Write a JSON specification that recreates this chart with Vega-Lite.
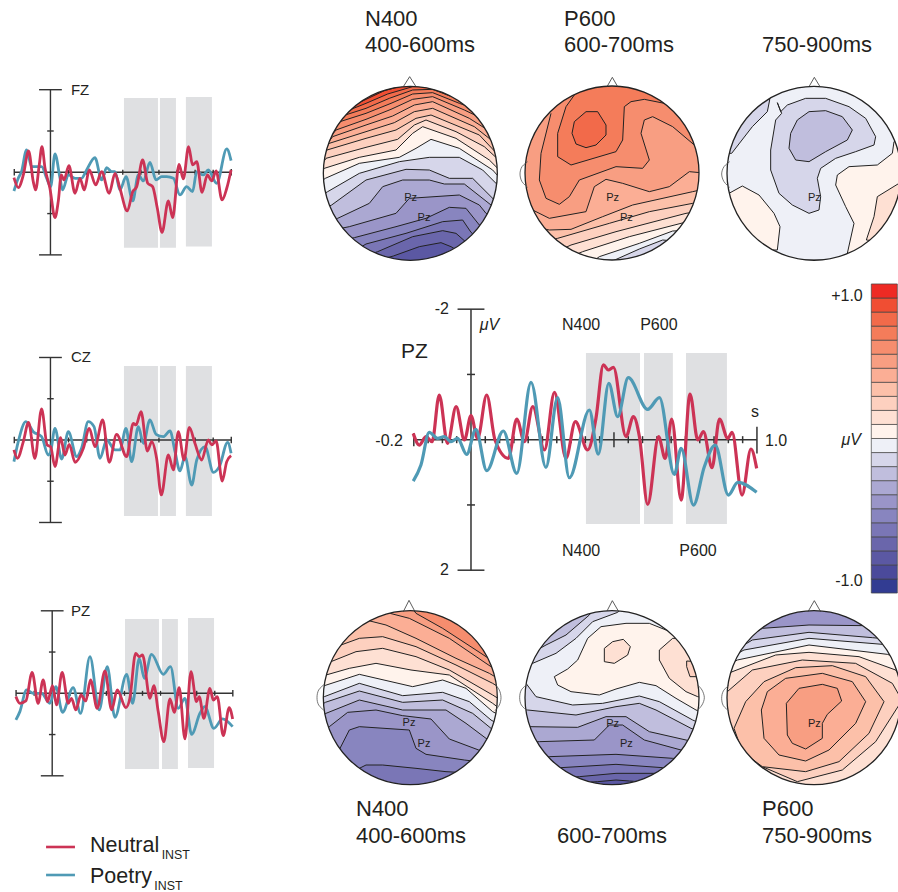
{"$schema":"https://vega.github.io/schema/vega-lite/v6.json","padding":0,"background":"white","config":{"view":{"stroke":null},"text":{"font":"Liberation Sans","color":"#231f20"}},
"datasets":{
"axS":[{"t":-0.2,"t2":1,"u":0,"u2":0},{"t":0,"t2":0,"u":-2,"u2":2},{"t":-0.063,"t2":0.063,"u":-2,"u2":-2},{"t":-0.063,"t2":0.063,"u":2,"u2":2},{"t":-0.018,"t2":0.018,"u":-1,"u2":-1},{"t":-0.018,"t2":0.018,"u":1,"u2":1},{"t":-0.2,"t2":-0.2,"u":-0.08,"u2":0.08},{"t":1,"t2":1,"u":-0.08,"u2":0.08},{"t":-0.1,"t2":-0.1,"u":-0.06,"u2":0.06},{"t":0.1,"t2":0.1,"u":-0.06,"u2":0.06},{"t":0.2,"t2":0.2,"u":-0.06,"u2":0.06},{"t":0.3,"t2":0.3,"u":-0.06,"u2":0.06},{"t":0.4,"t2":0.4,"u":-0.06,"u2":0.06},{"t":0.5,"t2":0.5,"u":-0.06,"u2":0.06},{"t":0.6,"t2":0.6,"u":-0.06,"u2":0.06},{"t":0.7,"t2":0.7,"u":-0.06,"u2":0.06},{"t":0.8,"t2":0.8,"u":-0.06,"u2":0.06},{"t":0.9,"t2":0.9,"u":-0.06,"u2":0.06}],
"fzN":[{"t":-0.202,"u":0.129},{"t":-0.178,"u":0.371},{"t":-0.15,"u":0.065},{"t":-0.121,"u":-0.516},{"t":-0.095,"u":0.226},{"t":-0.082,"u":0.428},{"t":-0.062,"u":-0.178},{"t":-0.047,"u":-0.621},{"t":-0.03,"u":-0.097},{"t":-0.003,"u":0.387},{"t":0.025,"u":1.097},{"t":0.043,"u":0.71},{"t":0.06,"u":0.065},{"t":0.075,"u":0.186},{"t":0.102,"u":-0.161},{"t":0.136,"u":0.508},{"t":0.163,"u":0.145},{"t":0.187,"u":0.428},{"t":0.215,"u":-0.056},{"t":0.25,"u":0.307},{"t":0.283,"u":-0.016},{"t":0.325,"u":0.508},{"t":0.357,"u":0.024},{"t":0.384,"u":0.387},{"t":0.425,"u":0.936},{"t":0.455,"u":0.468},{"t":0.477,"u":0.347},{"t":0.51,"u":-0.299},{"t":0.538,"u":0.266},{"t":0.565,"u":0.347},{"t":0.591,"u":0.872},{"t":0.617,"u":1.453},{"t":0.652,"u":0.694},{"t":0.676,"u":1.097},{"t":0.711,"u":-0.194},{"t":0.735,"u":0.161},{"t":0.764,"u":-0.621},{"t":0.786,"u":-0.178},{"t":0.809,"u":-0.258},{"t":0.838,"u":0.484},{"t":0.868,"u":0.065},{"t":0.892,"u":0.21},{"t":0.916,"u":-0.032},{"t":0.949,"u":0.67},{"t":0.975,"u":0.387},{"t":0.999,"u":-0.056}],
"fzP":[{"t":-0.202,"u":0.452},{"t":-0.178,"u":0.145},{"t":-0.16,"u":-0.016},{"t":-0.132,"u":-0.541},{"t":-0.104,"u":-0.137},{"t":-0.049,"u":-0.137},{"t":-0.021,"u":0.145},{"t":0.001,"u":0.347},{"t":0.025,"u":-0.444},{"t":0.053,"u":0.145},{"t":0.067,"u":0.428},{"t":0.099,"u":0.065},{"t":0.136,"u":0.145},{"t":0.172,"u":0.145},{"t":0.2,"u":-0.056},{"t":0.246,"u":-0.355},{"t":0.283,"u":0.186},{"t":0.311,"u":-0.113},{"t":0.338,"u":-0.016},{"t":0.357,"u":-0.016},{"t":0.384,"u":0.428},{"t":0.418,"u":0.105},{"t":0.455,"u":0.694},{"t":0.486,"u":0.065},{"t":0.514,"u":0.21},{"t":0.55,"u":-0.242},{"t":0.584,"u":0.186},{"t":0.615,"u":0.105},{"t":0.643,"u":0.105},{"t":0.68,"u":0.145},{"t":0.716,"u":0.549},{"t":0.753,"u":0.347},{"t":0.786,"u":0.468},{"t":0.809,"u":-0.016},{"t":0.845,"u":0.065},{"t":0.873,"u":-0.056},{"t":0.919,"u":0.266},{"t":0.975,"u":-0.565},{"t":0.999,"u":-0.282}],
"czN":[{"t":-0.202,"u":0.242},{"t":-0.183,"u":0.444},{"t":-0.15,"u":0.04},{"t":-0.121,"u":-0.428},{"t":-0.086,"u":0.444},{"t":-0.049,"u":-0.751},{"t":-0.018,"u":0.121},{"t":0.001,"u":0.162},{"t":0.025,"u":0.646},{"t":0.056,"u":-0.057},{"t":0.08,"u":0.364},{"t":0.104,"u":0.105},{"t":0.136,"u":0.541},{"t":0.182,"u":0.202},{"t":0.215,"u":-0.283},{"t":0.246,"u":0.162},{"t":0.289,"u":-0.485},{"t":0.325,"u":0.541},{"t":0.366,"u":-0.137},{"t":0.421,"u":0.404},{"t":0.458,"u":-0.404},{"t":0.473,"u":-0.364},{"t":0.501,"u":-0.687},{"t":0.536,"u":0.267},{"t":0.56,"u":0.04},{"t":0.587,"u":0.444},{"t":0.613,"u":1.333},{"t":0.652,"u":0.364},{"t":0.68,"u":0.727},{"t":0.707,"u":-0.202},{"t":0.739,"u":0.485},{"t":0.768,"u":-0.307},{"t":0.799,"u":0.081},{"t":0.836,"u":0.485},{"t":0.873,"u":0},{"t":0.892,"u":0.121},{"t":0.916,"u":0.024},{"t":0.95,"u":0.994},{"t":0.975,"u":0.525},{"t":0.999,"u":0.38}],
"czP":[{"t":-0.202,"u":0.525},{"t":-0.178,"u":0.04},{"t":-0.136,"u":-0.444},{"t":-0.095,"u":-0.202},{"t":-0.049,"u":-0.081},{"t":-0.012,"u":0.364},{"t":0.001,"u":0.283},{"t":0.025,"u":-0.283},{"t":0.062,"u":0.461},{"t":0.099,"u":-0.202},{"t":0.145,"u":0.404},{"t":0.172,"u":0.202},{"t":0.209,"u":-0.444},{"t":0.241,"u":-0.323},{"t":0.274,"u":0.444},{"t":0.311,"u":0},{"t":0.357,"u":0.242},{"t":0.384,"u":0.242},{"t":0.418,"u":-0.283},{"t":0.449,"u":0.525},{"t":0.486,"u":-0.323},{"t":0.514,"u":0.081},{"t":0.55,"u":-0.485},{"t":0.584,"u":-0.137},{"t":0.624,"u":-0.081},{"t":0.661,"u":-0.218},{"t":0.689,"u":0.283},{"t":0.716,"u":0.751},{"t":0.744,"u":0.404},{"t":0.781,"u":1.091},{"t":0.809,"u":0.485},{"t":0.855,"u":0.162},{"t":0.901,"u":0.784},{"t":0.934,"u":0.646},{"t":0.98,"u":0.057},{"t":0.999,"u":0.323}],
"pzN":[{"t":-0.201,"u":0.081},{"t":-0.179,"u":0.242},{"t":-0.146,"u":0.186},{"t":-0.111,"u":-0.509},{"t":-0.078,"u":0.242},{"t":-0.05,"u":-0.323},{"t":-0.026,"u":0.202},{"t":0.002,"u":-0.186},{"t":0.024,"u":0.283},{"t":0.055,"u":-0.509},{"t":0.089,"u":0.242},{"t":0.107,"u":0.121},{"t":0.131,"u":0.404},{"t":0.159,"u":0.04},{"t":0.186,"u":0.186},{"t":0.212,"u":-0.323},{"t":0.249,"u":0.364},{"t":0.292,"u":-0.541},{"t":0.329,"u":0.404},{"t":0.36,"u":-0.081},{"t":0.408,"u":0.347},{"t":0.43,"u":0.121},{"t":0.462,"u":-0.97},{"t":0.482,"u":-0.889},{"t":0.5,"u":-0.929},{"t":0.541,"u":0.121},{"t":0.563,"u":-0.186},{"t":0.587,"u":0.444},{"t":0.618,"u":1.172},{"t":0.652,"u":0.137},{"t":0.676,"u":0.461},{"t":0.703,"u":-0.137},{"t":0.735,"u":1.107},{"t":0.768,"u":-0.525},{"t":0.799,"u":0.202},{"t":0.814,"u":0.081},{"t":0.84,"u":0.606},{"t":0.873,"u":-0.121},{"t":0.892,"u":0.162},{"t":0.914,"u":0.081},{"t":0.947,"u":1.026},{"t":0.98,"u":0.347},{"t":0.999,"u":0.622}],
"pzP":[{"t":-0.201,"u":0.646},{"t":-0.179,"u":0.444},{"t":-0.142,"u":-0.081},{"t":-0.105,"u":0},{"t":-0.059,"u":0},{"t":-0.013,"u":0.242},{"t":0.02,"u":-0.162},{"t":0.057,"u":0.461},{"t":0.116,"u":-0.137},{"t":0.157,"u":0.485},{"t":0.209,"u":-0.889},{"t":0.26,"u":0.404},{"t":0.305,"u":-0.646},{"t":0.347,"u":0.582},{"t":0.412,"u":-0.461},{"t":0.445,"u":0.242},{"t":0.482,"u":-0.848},{"t":0.51,"u":-0.364},{"t":0.55,"u":-0.945},{"t":0.615,"u":-0.461},{"t":0.655,"u":-0.646},{"t":0.698,"u":0.364},{"t":0.735,"u":0.121},{"t":0.772,"u":0.994},{"t":0.818,"u":0.485},{"t":0.845,"u":0.323},{"t":0.895,"u":0.848},{"t":0.943,"u":0.622},{"t":0.999,"u":0.808}],
"bigN":[{"t":-0.202,"u":-0.097},{"t":-0.181,"u":0.082},{"t":-0.157,"u":-0.046},{"t":-0.136,"u":0.031},{"t":-0.111,"u":-0.685},{"t":-0.082,"u":0.056},{"t":-0.052,"u":-0.506},{"t":-0.023,"u":0.005},{"t":0,"u":-0.368},{"t":0.023,"u":-0.02},{"t":0.055,"u":-0.685},{"t":0.084,"u":0.005},{"t":0.131,"u":0.286},{"t":0.16,"u":-0.317},{"t":0.187,"u":0.031},{"t":0.216,"u":-0.506},{"t":0.257,"u":0.158},{"t":0.292,"u":-0.726},{"t":0.332,"u":0.286},{"t":0.365,"u":-0.276},{"t":0.408,"u":0.158},{"t":0.437,"u":-0.327},{"t":0.463,"u":-1.145},{"t":0.48,"u":-1.068},{"t":0.498,"u":-1.109},{"t":0.542,"u":-0.046},{"t":0.568,"u":-0.353},{"t":0.589,"u":-0.046},{"t":0.618,"u":0.991},{"t":0.656,"u":-0.046},{"t":0.679,"u":0.286},{"t":0.702,"u":-0.317},{"t":0.735,"u":0.925},{"t":0.766,"u":-0.7},{"t":0.793,"u":0.005},{"t":0.813,"u":-0.123},{"t":0.843,"u":0.429},{"t":0.869,"u":-0.317},{"t":0.898,"u":-0.02},{"t":0.913,"u":-0.112},{"t":0.948,"u":0.848},{"t":0.979,"u":0.143},{"t":0.999,"u":0.439}],
"bigP":[{"t":-0.202,"u":0.634},{"t":-0.175,"u":0.388},{"t":-0.146,"u":-0.112},{"t":-0.117,"u":-0.02},{"t":-0.093,"u":-0.046},{"t":-0.07,"u":0.031},{"t":-0.047,"u":-0.02},{"t":-0.015,"u":0.225},{"t":0.017,"u":-0.158},{"t":0.055,"u":0.475},{"t":0.113,"u":-0.133},{"t":0.16,"u":0.516},{"t":0.21,"u":-0.879},{"t":0.262,"u":0.424},{"t":0.303,"u":-0.644},{"t":0.344,"u":0.583},{"t":0.414,"u":-0.455},{"t":0.445,"u":0.22},{"t":0.482,"u":-0.864},{"t":0.513,"u":-0.353},{"t":0.55,"u":-0.95},{"t":0.618,"u":-0.465},{"t":0.659,"u":-0.644},{"t":0.711,"u":0.531},{"t":0.735,"u":0.133},{"t":0.778,"u":1.002},{"t":0.816,"u":0.414},{"t":0.854,"u":0.082},{"t":0.9,"u":0.848},{"t":0.933,"u":0.654},{"t":0.999,"u":0.807}],
"m1":[{"v":1.05,"x":0,"y":30},{"v":1.05,"x":570,"y":30},{"v":1.05,"x":570,"y":570},{"v":1.05,"x":0,"y":570},
{"v":0.95,"x":0,"y":205},{"v":0.95,"x":125,"y":100},{"v":0.95,"x":205,"y":62},{"v":0.95,"x":280,"y":42},{"v":0.95,"x":570,"y":42},{"v":0.95,"x":570,"y":570},{"v":0.95,"x":0,"y":570},
{"v":0.85,"x":0,"y":215},{"v":0.85,"x":105,"y":118},{"v":0.85,"x":150,"y":100},{"v":0.85,"x":215,"y":72},{"v":0.85,"x":290,"y":50},{"v":0.85,"x":350,"y":48},{"v":0.85,"x":570,"y":70},{"v":0.85,"x":570,"y":570},{"v":0.85,"x":0,"y":570},
{"v":0.75,"x":0,"y":230},{"v":0.75,"x":88,"y":135},{"v":0.75,"x":150,"y":115},{"v":0.75,"x":220,"y":85},{"v":0.75,"x":290,"y":60},{"v":0.75,"x":350,"y":58},{"v":0.75,"x":420,"y":85},{"v":0.75,"x":570,"y":120},{"v":0.75,"x":570,"y":570},{"v":0.75,"x":0,"y":570},
{"v":0.65,"x":0,"y":240},{"v":0.65,"x":72,"y":155},{"v":0.65,"x":150,"y":130},{"v":0.65,"x":225,"y":100},{"v":0.65,"x":290,"y":72},{"v":0.65,"x":350,"y":68},{"v":0.65,"x":430,"y":100},{"v":0.65,"x":570,"y":150},{"v":0.65,"x":570,"y":570},{"v":0.65,"x":0,"y":570},
{"v":0.55,"x":0,"y":255},{"v":0.55,"x":60,"y":180},{"v":0.55,"x":150,"y":148},{"v":0.55,"x":225,"y":118},{"v":0.55,"x":290,"y":88},{"v":0.55,"x":350,"y":80},{"v":0.55,"x":445,"y":120},{"v":0.55,"x":570,"y":180},{"v":0.55,"x":570,"y":570},{"v":0.55,"x":0,"y":570},
{"v":0.45,"x":0,"y":265},{"v":0.45,"x":50,"y":200},{"v":0.45,"x":150,"y":165},{"v":0.45,"x":230,"y":138},{"v":0.45,"x":295,"y":105},{"v":0.45,"x":350,"y":95},{"v":0.45,"x":460,"y":145},{"v":0.45,"x":570,"y":215},{"v":0.45,"x":570,"y":570},{"v":0.45,"x":0,"y":570},
{"v":0.35,"x":0,"y":275},{"v":0.35,"x":40,"y":220},{"v":0.35,"x":150,"y":185},{"v":0.35,"x":235,"y":158},{"v":0.35,"x":295,"y":125},{"v":0.35,"x":350,"y":115},{"v":0.35,"x":475,"y":170},{"v":0.35,"x":570,"y":245},{"v":0.35,"x":570,"y":570},{"v":0.35,"x":0,"y":570},
{"v":0.25,"x":0,"y":285},{"v":0.25,"x":33,"y":240},{"v":0.25,"x":150,"y":205},{"v":0.25,"x":240,"y":180},{"v":0.25,"x":300,"y":145},{"v":0.25,"x":345,"y":135},{"v":0.25,"x":490,"y":195},{"v":0.25,"x":570,"y":280},{"v":0.25,"x":570,"y":570},{"v":0.25,"x":0,"y":570},
{"v":0.15,"x":0,"y":310},{"v":0.15,"x":30,"y":265},{"v":0.15,"x":150,"y":232},{"v":0.15,"x":245,"y":208},{"v":0.15,"x":295,"y":165},{"v":0.15,"x":330,"y":150},{"v":0.15,"x":420,"y":185},{"v":0.15,"x":505,"y":230},{"v":0.15,"x":570,"y":290},{"v":0.15,"x":570,"y":570},{"v":0.15,"x":0,"y":570},
{"v":0.05,"x":0,"y":320},{"v":0.05,"x":25,"y":295},{"v":0.05,"x":130,"y":262},{"v":0.05,"x":240,"y":240},{"v":0.05,"x":290,"y":190},{"v":0.05,"x":320,"y":170},{"v":0.05,"x":420,"y":205},{"v":0.05,"x":520,"y":270},{"v":0.05,"x":570,"y":320},{"v":0.05,"x":570,"y":570},{"v":0.05,"x":0,"y":570},
{"v":-0.05,"x":0,"y":345},{"v":-0.05,"x":28,"y":325},{"v":-0.05,"x":130,"y":280},{"v":-0.05,"x":250,"y":262},{"v":-0.05,"x":300,"y":235},{"v":-0.05,"x":345,"y":208},{"v":-0.05,"x":430,"y":235},{"v":-0.05,"x":530,"y":300},{"v":-0.05,"x":570,"y":345},{"v":-0.05,"x":570,"y":570},{"v":-0.05,"x":0,"y":570},
{"v":-0.15,"x":0,"y":385},{"v":-0.15,"x":35,"y":365},{"v":-0.15,"x":130,"y":310},{"v":-0.15,"x":250,"y":275},{"v":-0.15,"x":340,"y":262},{"v":-0.15,"x":430,"y":262},{"v":-0.15,"x":500,"y":300},{"v":-0.15,"x":545,"y":345},{"v":-0.15,"x":570,"y":370},{"v":-0.15,"x":570,"y":570},{"v":-0.15,"x":0,"y":570},
{"v":-0.25,"x":0,"y":425},{"v":-0.25,"x":47,"y":405},{"v":-0.25,"x":150,"y":330},{"v":-0.25,"x":270,"y":298},{"v":-0.25,"x":340,"y":300},{"v":-0.25,"x":400,"y":325},{"v":-0.25,"x":470,"y":325},{"v":-0.25,"x":540,"y":395},{"v":-0.25,"x":570,"y":430},{"v":-0.25,"x":570,"y":570},{"v":-0.25,"x":0,"y":570},
{"v":-0.35,"x":0,"y":465},{"v":-0.35,"x":65,"y":445},{"v":-0.35,"x":160,"y":400},{"v":-0.35,"x":200,"y":350},{"v":-0.35,"x":260,"y":330},{"v":-0.35,"x":340,"y":330},{"v":-0.35,"x":385,"y":342},{"v":-0.35,"x":445,"y":342},{"v":-0.35,"x":525,"y":405},{"v":-0.35,"x":570,"y":450},{"v":-0.35,"x":570,"y":570},{"v":-0.35,"x":0,"y":570},
{"v":-0.45,"x":0,"y":490},{"v":-0.45,"x":100,"y":470},{"v":-0.45,"x":240,"y":430},{"v":-0.45,"x":280,"y":385},{"v":-0.45,"x":430,"y":375},{"v":-0.45,"x":490,"y":405},{"v":-0.45,"x":510,"y":430},{"v":-0.45,"x":570,"y":470},{"v":-0.45,"x":570,"y":570},{"v":-0.45,"x":0,"y":570},
{"v":-0.55,"x":0,"y":530},{"v":-0.55,"x":115,"y":503},{"v":-0.55,"x":240,"y":470},{"v":-0.55,"x":330,"y":445},{"v":-0.55,"x":400,"y":412},{"v":-0.55,"x":450,"y":415},{"v":-0.55,"x":490,"y":465},{"v":-0.55,"x":570,"y":530},{"v":-0.55,"x":570,"y":570},{"v":-0.55,"x":0,"y":570},
{"v":-0.65,"x":60,"y":575},{"v":-0.65,"x":150,"y":522},{"v":-0.65,"x":270,"y":490},{"v":-0.65,"x":380,"y":455},{"v":-0.65,"x":440,"y":450},{"v":-0.65,"x":465,"y":487},{"v":-0.65,"x":570,"y":575},
{"v":-0.75,"x":100,"y":575},{"v":-0.75,"x":185,"y":545},{"v":-0.75,"x":290,"y":500},{"v":-0.75,"x":380,"y":482},{"v":-0.75,"x":420,"y":490},{"v":-0.75,"x":445,"y":512},{"v":-0.75,"x":520,"y":575},
{"v":-0.85,"x":170,"y":575},{"v":-0.85,"x":232,"y":558},{"v":-0.85,"x":310,"y":530},{"v":-0.85,"x":375,"y":518},{"v":-0.85,"x":405,"y":530},{"v":-0.85,"x":480,"y":575}],
"m2":[{"v":0.55,"x":0,"y":30},{"v":0.55,"x":575,"y":30},{"v":0.55,"x":575,"y":570},{"v":0.55,"x":0,"y":570},
{"v":0.65,"x":105,"y":130},{"v":0.65,"x":75,"y":250},{"v":0.65,"x":70,"y":330},{"v":0.65,"x":90,"y":385},{"v":0.65,"x":130,"y":403},{"v":0.65,"x":160,"y":380},{"v":0.65,"x":190,"y":330},{"v":0.65,"x":300,"y":290},{"v":0.65,"x":380,"y":295},{"v":0.65,"x":400,"y":270},{"v":0.65,"x":375,"y":190},{"v":0.65,"x":385,"y":150},{"v":0.65,"x":410,"y":140},{"v":0.65,"x":470,"y":170},{"v":0.65,"x":535,"y":225},{"v":0.65,"x":575,"y":240},{"v":0.65,"x":575,"y":30},{"v":0.65,"x":105,"y":30},
{"v":0.75,"x":175,"y":75},{"v":0.75,"x":150,"y":110},{"v":0.75,"x":125,"y":190},{"v":0.75,"x":125,"y":260},{"v":0.75,"x":165,"y":285},{"v":0.75,"x":300,"y":245},{"v":0.75,"x":320,"y":210},{"v":0.75,"x":325,"y":110},{"v":0.75,"x":345,"y":95},{"v":0.75,"x":385,"y":88},{"v":0.75,"x":445,"y":100},{"v":0.75,"x":575,"y":100},{"v":0.75,"x":575,"y":30},{"v":0.75,"x":175,"y":30},
{"v":0.85,"x":210,"y":125},{"v":0.85,"x":245,"y":125},{"v":0.85,"x":270,"y":165},{"v":0.85,"x":270,"y":195},{"v":0.85,"x":240,"y":225},{"v":0.85,"x":210,"y":233},{"v":0.85,"x":180,"y":222},{"v":0.85,"x":168,"y":190},{"v":0.85,"x":175,"y":155},{"v":0.85,"x":210,"y":125},
{"v":0.45,"x":0,"y":400},{"v":0.45,"x":50,"y":420},{"v":0.45,"x":100,"y":445},{"v":0.45,"x":210,"y":425},{"v":0.45,"x":235,"y":350},{"v":0.45,"x":270,"y":328},{"v":0.45,"x":320,"y":340},{"v":0.45,"x":400,"y":365},{"v":0.45,"x":460,"y":350},{"v":0.45,"x":520,"y":305},{"v":0.45,"x":575,"y":310},{"v":0.45,"x":575,"y":570},{"v":0.45,"x":0,"y":570},
{"v":0.35,"x":0,"y":460},{"v":0.35,"x":100,"y":480},{"v":0.35,"x":165,"y":478},{"v":0.35,"x":260,"y":440},{"v":0.35,"x":350,"y":405},{"v":0.35,"x":530,"y":365},{"v":0.35,"x":575,"y":355},{"v":0.35,"x":575,"y":570},{"v":0.35,"x":0,"y":570},
{"v":0.25,"x":50,"y":525},{"v":0.25,"x":125,"y":505},{"v":0.25,"x":280,"y":460},{"v":0.25,"x":400,"y":425},{"v":0.25,"x":530,"y":400},{"v":0.25,"x":575,"y":395},{"v":0.25,"x":575,"y":570},{"v":0.25,"x":50,"y":570},
{"v":0.15,"x":90,"y":560},{"v":0.15,"x":165,"y":525},{"v":0.15,"x":300,"y":485},{"v":0.15,"x":510,"y":430},{"v":0.15,"x":575,"y":420},{"v":0.15,"x":575,"y":575},{"v":0.15,"x":90,"y":575},
{"v":0.05,"x":140,"y":570},{"v":0.05,"x":200,"y":545},{"v":0.05,"x":340,"y":500},{"v":0.05,"x":495,"y":460},{"v":0.05,"x":575,"y":440},{"v":0.05,"x":575,"y":575},{"v":0.05,"x":140,"y":575},
{"v":-0.05,"x":230,"y":575},{"v":-0.05,"x":250,"y":560},{"v":-0.05,"x":370,"y":520},{"v":-0.05,"x":470,"y":483},{"v":-0.05,"x":540,"y":480},{"v":-0.05,"x":540,"y":575},
{"v":-0.15,"x":285,"y":575},{"v":-0.15,"x":370,"y":537},{"v":-0.15,"x":440,"y":510},{"v":-0.15,"x":500,"y":515},{"v":-0.15,"x":500,"y":575}],
"m3":[{"v":-0.05,"x":30,"y":30},{"v":-0.05,"x":570,"y":30},{"v":-0.05,"x":570,"y":570},{"v":-0.05,"x":30,"y":570},
{"v":-0.15,"x":205,"y":98},{"v":-0.15,"x":215,"y":125},{"v":-0.15,"x":235,"y":105},{"v":-0.15,"x":290,"y":85},{"v":-0.15,"x":350,"y":85},{"v":-0.15,"x":420,"y":110},{"v":-0.15,"x":470,"y":145},{"v":-0.15,"x":500,"y":200},{"v":-0.15,"x":495,"y":225},{"v":-0.15,"x":440,"y":245},{"v":-0.15,"x":380,"y":265},{"v":-0.15,"x":335,"y":295},{"v":-0.15,"x":325,"y":325},{"v":-0.15,"x":335,"y":380},{"v":-0.15,"x":330,"y":420},{"v":-0.15,"x":300,"y":430},{"v":-0.15,"x":250,"y":405},{"v":-0.15,"x":210,"y":370},{"v":-0.15,"x":185,"y":300},{"v":-0.15,"x":185,"y":240},{"v":-0.15,"x":200,"y":150},{"v":-0.15,"x":218,"y":130},{"v":-0.15,"x":205,"y":98},
{"v":-0.151,"x":182,"y":60},{"v":-0.151,"x":182,"y":90},{"v":-0.151,"x":175,"y":125},{"v":-0.151,"x":130,"y":170},{"v":-0.151,"x":68,"y":250},{"v":-0.151,"x":40,"y":250},{"v":-0.151,"x":40,"y":60},{"v":-0.151,"x":182,"y":60},
{"v":-0.25,"x":300,"y":125},{"v":-0.25,"x":350,"y":122},{"v":-0.25,"x":400,"y":140},{"v":-0.25,"x":430,"y":180},{"v":-0.25,"x":415,"y":210},{"v":-0.25,"x":350,"y":245},{"v":-0.25,"x":300,"y":275},{"v":-0.25,"x":260,"y":270},{"v":-0.25,"x":240,"y":235},{"v":-0.25,"x":245,"y":190},{"v":-0.25,"x":265,"y":150},{"v":-0.25,"x":300,"y":125},
{"v":0.05,"x":40,"y":375},{"v":0.05,"x":60,"y":370},{"v":0.05,"x":100,"y":348},{"v":0.05,"x":150,"y":375},{"v":0.05,"x":195,"y":430},{"v":0.05,"x":213,"y":470},{"v":0.05,"x":205,"y":540},{"v":0.05,"x":150,"y":540},{"v":0.05,"x":40,"y":500},{"v":0.05,"x":40,"y":375},
{"v":0.051,"x":570,"y":215},{"v":0.051,"x":555,"y":215},{"v":0.051,"x":550,"y":250},{"v":0.051,"x":505,"y":285},{"v":0.051,"x":420,"y":290},{"v":0.051,"x":385,"y":315},{"v":0.051,"x":380,"y":345},{"v":0.051,"x":410,"y":410},{"v":0.051,"x":435,"y":460},{"v":0.051,"x":415,"y":550},{"v":0.051,"x":480,"y":575},{"v":0.051,"x":570,"y":575},{"v":0.051,"x":570,"y":215},
{"v":0.15,"x":570,"y":340},{"v":0.15,"x":505,"y":380},{"v":0.15,"x":495,"y":440},{"v":0.15,"x":472,"y":510},{"v":0.15,"x":570,"y":520},{"v":0.15,"x":570,"y":340}],
"m4":[{"v":0.65,"x":0,"y":30},{"v":0.65,"x":570,"y":30},{"v":0.65,"x":570,"y":570},{"v":0.65,"x":0,"y":570},
{"v":0.55,"x":0,"y":30},{"v":0.55,"x":285,"y":35},{"v":0.55,"x":300,"y":55},{"v":0.55,"x":380,"y":100},{"v":0.55,"x":495,"y":175},{"v":0.55,"x":570,"y":225},{"v":0.55,"x":570,"y":570},{"v":0.55,"x":0,"y":570},
{"v":0.45,"x":0,"y":30},{"v":0.45,"x":205,"y":40},{"v":0.45,"x":222,"y":55},{"v":0.45,"x":280,"y":70},{"v":0.45,"x":400,"y":130},{"v":0.45,"x":510,"y":205},{"v":0.45,"x":570,"y":245},{"v":0.45,"x":570,"y":570},{"v":0.45,"x":0,"y":570},
{"v":0.35,"x":0,"y":40},{"v":0.35,"x":150,"y":75},{"v":0.35,"x":210,"y":90},{"v":0.35,"x":300,"y":130},{"v":0.35,"x":420,"y":190},{"v":0.35,"x":520,"y":235},{"v":0.35,"x":570,"y":265},{"v":0.35,"x":570,"y":570},{"v":0.35,"x":0,"y":570},
{"v":0.25,"x":0,"y":190},{"v":0.25,"x":75,"y":150},{"v":0.25,"x":130,"y":130},{"v":0.25,"x":200,"y":125},{"v":0.25,"x":300,"y":155},{"v":0.25,"x":420,"y":210},{"v":0.25,"x":530,"y":265},{"v":0.25,"x":570,"y":290},{"v":0.25,"x":570,"y":570},{"v":0.25,"x":0,"y":570},
{"v":0.15,"x":0,"y":215},{"v":0.15,"x":45,"y":200},{"v":0.15,"x":120,"y":170},{"v":0.15,"x":200,"y":160},{"v":0.15,"x":300,"y":185},{"v":0.15,"x":400,"y":225},{"v":0.15,"x":530,"y":300},{"v":0.15,"x":570,"y":325},{"v":0.15,"x":570,"y":570},{"v":0.15,"x":0,"y":570},
{"v":0.05,"x":0,"y":250},{"v":0.05,"x":30,"y":240},{"v":0.05,"x":100,"y":220},{"v":0.05,"x":180,"y":205},{"v":0.05,"x":285,"y":225},{"v":0.05,"x":400,"y":240},{"v":0.05,"x":530,"y":325},{"v":0.05,"x":570,"y":355},{"v":0.05,"x":570,"y":570},{"v":0.05,"x":0,"y":570},
{"v":-0.05,"x":0,"y":280},{"v":-0.05,"x":25,"y":272},{"v":-0.05,"x":130,"y":238},{"v":-0.05,"x":290,"y":275},{"v":-0.05,"x":380,"y":255},{"v":-0.05,"x":450,"y":280},{"v":-0.05,"x":530,"y":350},{"v":-0.05,"x":570,"y":370},{"v":-0.05,"x":570,"y":570},{"v":-0.05,"x":0,"y":570},
{"v":-0.15,"x":0,"y":315},{"v":-0.15,"x":25,"y":305},{"v":-0.15,"x":130,"y":265},{"v":-0.15,"x":260,"y":302},{"v":-0.15,"x":380,"y":292},{"v":-0.15,"x":460,"y":320},{"v":-0.15,"x":525,"y":375},{"v":-0.15,"x":570,"y":400},{"v":-0.15,"x":570,"y":570},{"v":-0.15,"x":0,"y":570},
{"v":-0.25,"x":0,"y":340},{"v":-0.25,"x":28,"y":322},{"v":-0.25,"x":130,"y":288},{"v":-0.25,"x":260,"y":322},{"v":-0.25,"x":380,"y":315},{"v":-0.25,"x":470,"y":355},{"v":-0.25,"x":525,"y":400},{"v":-0.25,"x":570,"y":425},{"v":-0.25,"x":570,"y":570},{"v":-0.25,"x":0,"y":570},
{"v":-0.35,"x":0,"y":375},{"v":-0.35,"x":30,"y":355},{"v":-0.35,"x":130,"y":315},{"v":-0.35,"x":260,"y":345},{"v":-0.35,"x":390,"y":345},{"v":-0.35,"x":450,"y":385},{"v":-0.35,"x":510,"y":430},{"v":-0.35,"x":570,"y":450},{"v":-0.35,"x":570,"y":570},{"v":-0.35,"x":0,"y":570},
{"v":-0.45,"x":0,"y":420},{"v":-0.45,"x":40,"y":395},{"v":-0.45,"x":95,"y":352},{"v":-0.45,"x":180,"y":345},{"v":-0.45,"x":260,"y":362},{"v":-0.45,"x":345,"y":372},{"v":-0.45,"x":400,"y":432},{"v":-0.45,"x":488,"y":465},{"v":-0.45,"x":570,"y":490},{"v":-0.45,"x":570,"y":570},{"v":-0.45,"x":0,"y":570},
{"v":-0.55,"x":40,"y":500},{"v":-0.55,"x":72,"y":460},{"v":-0.55,"x":100,"y":405},{"v":-0.55,"x":130,"y":395},{"v":-0.55,"x":280,"y":405},{"v":-0.55,"x":300,"y":460},{"v":-0.55,"x":330,"y":478},{"v":-0.55,"x":445,"y":495},{"v":-0.55,"x":570,"y":510},{"v":-0.55,"x":570,"y":575},{"v":-0.55,"x":40,"y":575},
{"v":-0.65,"x":100,"y":560},{"v":-0.65,"x":130,"y":520},{"v":-0.65,"x":150,"y":510},{"v":-0.65,"x":200,"y":510},{"v":-0.65,"x":300,"y":520},{"v":-0.65,"x":390,"y":530},{"v":-0.65,"x":570,"y":540},{"v":-0.65,"x":570,"y":575},{"v":-0.65,"x":100,"y":575}],
"m5":[{"v":-0.25,"x":0,"y":30},{"v":-0.25,"x":575,"y":30},{"v":-0.25,"x":575,"y":570},{"v":-0.25,"x":0,"y":570},
{"v":-0.15,"x":0,"y":200},{"v":-0.15,"x":90,"y":150},{"v":-0.15,"x":150,"y":120},{"v":-0.15,"x":220,"y":60},{"v":-0.15,"x":240,"y":30},{"v":-0.15,"x":575,"y":30},{"v":-0.15,"x":575,"y":570},{"v":-0.15,"x":0,"y":570},
{"v":-0.05,"x":0,"y":230},{"v":-0.05,"x":50,"y":205},{"v":-0.05,"x":120,"y":175},{"v":-0.05,"x":180,"y":130},{"v":-0.05,"x":230,"y":80},{"v":-0.05,"x":305,"y":52},{"v":-0.05,"x":330,"y":30},{"v":-0.05,"x":575,"y":30},{"v":-0.05,"x":575,"y":570},{"v":-0.05,"x":0,"y":570},
{"v":0.05,"x":115,"y":245},{"v":0.05,"x":155,"y":222},{"v":0.05,"x":185,"y":195},{"v":0.05,"x":215,"y":130},{"v":0.05,"x":255,"y":95},{"v":0.05,"x":330,"y":85},{"v":0.05,"x":400,"y":85},{"v":0.05,"x":450,"y":105},{"v":0.05,"x":575,"y":105},{"v":0.05,"x":575,"y":360},{"v":0.05,"x":540,"y":345},{"v":0.05,"x":480,"y":310},{"v":0.05,"x":420,"y":272},{"v":0.05,"x":370,"y":262},{"v":0.05,"x":300,"y":282},{"v":0.05,"x":250,"y":300},{"v":0.05,"x":165,"y":290},{"v":0.05,"x":125,"y":270},{"v":0.05,"x":115,"y":245},
{"v":0.15,"x":265,"y":160},{"v":0.15,"x":290,"y":140},{"v":0.15,"x":322,"y":133},{"v":0.15,"x":343,"y":155},{"v":0.15,"x":335,"y":180},{"v":0.15,"x":295,"y":205},{"v":0.15,"x":265,"y":200},{"v":0.15,"x":265,"y":160},
{"v":0.151,"x":470,"y":130},{"v":0.151,"x":430,"y":165},{"v":0.151,"x":430,"y":195},{"v":0.151,"x":460,"y":250},{"v":0.151,"x":510,"y":290},{"v":0.151,"x":545,"y":305},{"v":0.151,"x":575,"y":310},{"v":0.151,"x":575,"y":130},{"v":0.151,"x":470,"y":130},
{"v":0.25,"x":512,"y":198},{"v":0.25,"x":545,"y":200},{"v":0.25,"x":545,"y":245},{"v":0.25,"x":522,"y":245},{"v":0.25,"x":512,"y":215},{"v":0.25,"x":512,"y":198},
{"v":-0.151,"x":0,"y":240},{"v":-0.151,"x":30,"y":265},{"v":-0.151,"x":60,"y":305},{"v":-0.151,"x":170,"y":330},{"v":-0.151,"x":260,"y":325},{"v":-0.151,"x":370,"y":303},{"v":-0.151,"x":430,"y":320},{"v":-0.151,"x":530,"y":375},{"v":-0.151,"x":575,"y":395},{"v":-0.151,"x":575,"y":570},{"v":-0.151,"x":0,"y":570},
{"v":-0.251,"x":0,"y":345},{"v":-0.251,"x":35,"y":345},{"v":-0.251,"x":180,"y":360},{"v":-0.251,"x":300,"y":335},{"v":-0.251,"x":370,"y":325},{"v":-0.251,"x":420,"y":345},{"v":-0.251,"x":525,"y":400},{"v":-0.251,"x":575,"y":420},{"v":-0.251,"x":575,"y":570},{"v":-0.251,"x":0,"y":570},
{"v":-0.35,"x":0,"y":395},{"v":-0.35,"x":40,"y":395},{"v":-0.35,"x":185,"y":397},{"v":-0.35,"x":270,"y":365},{"v":-0.35,"x":330,"y":365},{"v":-0.35,"x":400,"y":410},{"v":-0.35,"x":510,"y":435},{"v":-0.35,"x":575,"y":450},{"v":-0.35,"x":575,"y":570},{"v":-0.35,"x":0,"y":570},
{"v":-0.45,"x":0,"y":445},{"v":-0.45,"x":70,"y":440},{"v":-0.45,"x":235,"y":435},{"v":-0.45,"x":280,"y":390},{"v":-0.45,"x":320,"y":390},{"v":-0.45,"x":385,"y":435},{"v":-0.45,"x":495,"y":465},{"v":-0.45,"x":575,"y":490},{"v":-0.45,"x":575,"y":570},{"v":-0.45,"x":0,"y":570},
{"v":-0.55,"x":50,"y":490},{"v":-0.55,"x":100,"y":485},{"v":-0.55,"x":300,"y":478},{"v":-0.55,"x":470,"y":490},{"v":-0.55,"x":540,"y":495},{"v":-0.55,"x":540,"y":575},{"v":-0.55,"x":50,"y":575},
{"v":-0.65,"x":90,"y":520},{"v":-0.65,"x":135,"y":518},{"v":-0.65,"x":300,"y":508},{"v":-0.65,"x":440,"y":518},{"v":-0.65,"x":490,"y":520},{"v":-0.65,"x":490,"y":575},{"v":-0.65,"x":90,"y":575},
{"v":-0.75,"x":150,"y":548},{"v":-0.75,"x":190,"y":545},{"v":-0.75,"x":300,"y":535},{"v":-0.75,"x":390,"y":535},{"v":-0.75,"x":430,"y":535},{"v":-0.75,"x":430,"y":575},{"v":-0.75,"x":150,"y":575},
{"v":-0.85,"x":210,"y":562},{"v":-0.85,"x":245,"y":560},{"v":-0.85,"x":300,"y":555},{"v":-0.85,"x":340,"y":558},{"v":-0.85,"x":370,"y":560},{"v":-0.85,"x":370,"y":575},{"v":-0.85,"x":210,"y":575}],
"m6":[{"v":-0.45,"x":30,"y":30},{"v":-0.45,"x":570,"y":30},{"v":-0.45,"x":570,"y":570},{"v":-0.45,"x":30,"y":570},
{"v":-0.25,"x":30,"y":180},{"v":-0.25,"x":160,"y":100},{"v":-0.25,"x":300,"y":90},{"v":-0.25,"x":465,"y":92},{"v":-0.25,"x":570,"y":100},{"v":-0.25,"x":570,"y":570},{"v":-0.25,"x":30,"y":570},
{"v":-0.15,"x":30,"y":195},{"v":-0.15,"x":130,"y":135},{"v":-0.15,"x":300,"y":112},{"v":-0.15,"x":490,"y":128},{"v":-0.15,"x":570,"y":135},{"v":-0.15,"x":570,"y":570},{"v":-0.15,"x":30,"y":570},
{"v":-0.05,"x":30,"y":205},{"v":-0.05,"x":105,"y":165},{"v":-0.05,"x":300,"y":130},{"v":-0.05,"x":520,"y":148},{"v":-0.05,"x":570,"y":160},{"v":-0.05,"x":570,"y":570},{"v":-0.05,"x":30,"y":570},
{"v":0.05,"x":30,"y":225},{"v":0.05,"x":85,"y":195},{"v":0.05,"x":300,"y":150},{"v":0.05,"x":535,"y":178},{"v":0.05,"x":570,"y":190},{"v":0.05,"x":570,"y":570},{"v":0.05,"x":30,"y":570},
{"v":0.15,"x":30,"y":245},{"v":0.15,"x":65,"y":232},{"v":0.15,"x":200,"y":180},{"v":0.15,"x":300,"y":172},{"v":0.15,"x":450,"y":185},{"v":0.15,"x":560,"y":225},{"v":0.15,"x":570,"y":240},{"v":0.15,"x":570,"y":570},{"v":0.15,"x":30,"y":570},
{"v":0.25,"x":30,"y":310},{"v":0.25,"x":55,"y":290},{"v":0.25,"x":130,"y":225},{"v":0.25,"x":280,"y":195},{"v":0.25,"x":440,"y":205},{"v":0.25,"x":550,"y":265},{"v":0.25,"x":570,"y":300},{"v":0.25,"x":570,"y":330},{"v":0.25,"x":500,"y":440},{"v":0.25,"x":400,"y":525},{"v":0.25,"x":265,"y":560},{"v":0.25,"x":160,"y":515},{"v":0.25,"x":100,"y":470},{"v":0.25,"x":30,"y":400},{"v":0.25,"x":30,"y":310},
{"v":0.35,"x":75,"y":400},{"v":0.35,"x":110,"y":320},{"v":0.35,"x":165,"y":260},{"v":0.35,"x":260,"y":218},{"v":0.35,"x":370,"y":212},{"v":0.35,"x":470,"y":245},{"v":0.35,"x":525,"y":320},{"v":0.35,"x":480,"y":415},{"v":0.35,"x":390,"y":500},{"v":0.35,"x":290,"y":530},{"v":0.35,"x":160,"y":515},{"v":0.35,"x":100,"y":470},{"v":0.35,"x":75,"y":400},
{"v":0.45,"x":157,"y":345},{"v":0.45,"x":175,"y":290},{"v":0.45,"x":230,"y":250},{"v":0.45,"x":340,"y":235},{"v":0.45,"x":430,"y":260},{"v":0.45,"x":470,"y":320},{"v":0.45,"x":440,"y":385},{"v":0.45,"x":360,"y":465},{"v":0.45,"x":290,"y":498},{"v":0.45,"x":210,"y":480},{"v":0.45,"x":165,"y":430},{"v":0.45,"x":157,"y":345},
{"v":0.55,"x":232,"y":325},{"v":0.55,"x":270,"y":280},{"v":0.55,"x":340,"y":268},{"v":0.55,"x":385,"y":280},{"v":0.55,"x":398,"y":318},{"v":0.55,"x":355,"y":358},{"v":0.55,"x":340,"y":385},{"v":0.55,"x":340,"y":430},{"v":0.55,"x":290,"y":462},{"v":0.55,"x":250,"y":445},{"v":0.55,"x":235,"y":420},{"v":0.55,"x":232,"y":325}]
},
"hconcat":[
{"vconcat":[
{"width":315,"height":265,"encoding":{"x":{"field":"t","type":"quantitative","axis":null,"scale":{"domain":[-0.279,1.463],"nice":false,"zero":false}},"y":{"field":"u","type":"quantitative","axis":null,"scale":{"domain":[-4.172,2.245],"reverse":true,"nice":false,"zero":false}}},"layer":[
{"data":{"values":[{"t":0.4065,"t2":0.5946,"u":-1.8,"u2":1.83},{"t":0.6056,"t2":0.694,"u":-1.8,"u2":1.83},{"t":0.749,"t2":0.893,"u":-1.825,"u2":1.8}]},"mark":{"type":"rect","fill":"#dfe0e2"},"encoding":{"x2":{"field":"t2"},"y2":{"field":"u2"}}},
{"data":{"name":"axS"},"mark":{"type":"rule","stroke":"#333333","strokeWidth":1.4},"encoding":{"x2":{"field":"t2"},"y2":{"field":"u2"}}},
{"data":{"name":"fzP"},"mark":{"type":"line","stroke":"#4f9ab5","strokeWidth":2.8,"interpolate":"monotone"}},
{"data":{"name":"fzN"},"mark":{"type":"line","stroke":"#cc3355","strokeWidth":2.8,"interpolate":"monotone"}},
{"data":{"values":[{"t":0.113,"u":-1.993,"l":"FZ"}]},"mark":{"type":"text","align":"left","baseline":"middle","fontSize":15},"encoding":{"text":{"field":"l"}}}]},
{"width":315,"height":330,"encoding":{"x":{"field":"t","type":"quantitative","axis":null,"scale":{"domain":[-0.279,1.463],"nice":false,"zero":false}},"y":{"field":"u","type":"quantitative","axis":null,"scale":{"domain":[-4.242,3.758],"reverse":true,"nice":false,"zero":false}}},"layer":[
{"data":{"values":[{"t":0.4065,"t2":0.5946,"u":-1.794,"u2":1.842},{"t":0.6056,"t2":0.694,"u":-1.794,"u2":1.842},{"t":0.749,"t2":0.893,"u":-1.794,"u2":1.842}]},"mark":{"type":"rect","fill":"#dfe0e2"},"encoding":{"x2":{"field":"t2"},"y2":{"field":"u2"}}},
{"data":{"name":"axS"},"mark":{"type":"rule","stroke":"#333333","strokeWidth":1.4},"encoding":{"x2":{"field":"t2"},"y2":{"field":"u2"}}},
{"data":{"name":"czP"},"mark":{"type":"line","stroke":"#4f9ab5","strokeWidth":2.8,"interpolate":"monotone"}},
{"data":{"name":"czN"},"mark":{"type":"line","stroke":"#cc3355","strokeWidth":2.8,"interpolate":"monotone"}},
{"data":{"values":[{"t":0.113,"u":-2,"l":"CZ"}]},"mark":{"type":"text","align":"left","baseline":"middle","fontSize":15},"encoding":{"text":{"field":"l"}}}]},
{"width":315,"height":297,"encoding":{"x":{"field":"t","type":"quantitative","axis":null,"scale":{"domain":[-0.289,1.455],"nice":false,"zero":false}},"y":{"field":"u","type":"quantitative","axis":null,"scale":{"domain":[-2.383,4.817],"reverse":true,"nice":false,"zero":false}}},"layer":[
{"data":{"values":[{"t":0.403,"t2":0.591,"u":-1.8,"u2":1.838},{"t":0.608,"t2":0.696,"u":-1.8,"u2":1.838},{"t":0.752,"t2":0.896,"u":-1.825,"u2":1.81}]},"mark":{"type":"rect","fill":"#dfe0e2"},"encoding":{"x2":{"field":"t2"},"y2":{"field":"u2"}}},
{"data":{"name":"axS"},"mark":{"type":"rule","stroke":"#333333","strokeWidth":1.4},"encoding":{"x2":{"field":"t2"},"y2":{"field":"u2"}}},
{"data":{"name":"pzP"},"mark":{"type":"line","stroke":"#4f9ab5","strokeWidth":2.8,"interpolate":"monotone"}},
{"data":{"name":"pzN"},"mark":{"type":"line","stroke":"#cc3355","strokeWidth":2.8,"interpolate":"monotone"}},
{"data":{"values":[{"t":0.104,"u":-2,"l":"PZ"}]},"mark":{"type":"text","align":"left","baseline":"middle","fontSize":15},"encoding":{"text":{"field":"l"}}},
{"data":{"values":[{"t":-0.034,"t2":0.126,"u":3.726,"u2":3.726}]},"mark":{"type":"rule","stroke":"#cc3355","strokeWidth":2.6},"encoding":{"x2":{"field":"t2"},"y2":{"field":"u2"}}},
{"data":{"values":[{"t":-0.034,"t2":0.126,"u":4.405,"u2":4.405}]},"mark":{"type":"rule","stroke":"#4f9ab5","strokeWidth":2.6},"encoding":{"x2":{"field":"t2"},"y2":{"field":"u2"}}},
{"data":{"values":[{"t":0.209,"u":3.847,"l":"Neutral"},{"t":0.209,"u":4.591,"l":"Poetry"}]},"mark":{"type":"text","align":"left","baseline":"alphabetic","fontSize":21.5},"encoding":{"text":{"field":"l"}}},
{"data":{"values":[{"t":0.606,"u":4.024,"l":"INST"},{"t":0.565,"u":4.768,"l":"INST"}]},"mark":{"type":"text","align":"left","baseline":"alphabetic","fontSize":12.4},"encoding":{"text":{"field":"l"}}}]}
],"spacing":0,"bounds":"flush"},
{"vconcat":[
{"hconcat":[
{"width":200,"height":265,"encoding":{"x":{"field":"x","type":"quantitative","axis":null,"scale":{"domain":[0,600],"nice":false,"zero":false}},"y":{"field":"y","type":"quantitative","axis":null,"scale":{"domain":[-210,585],"reverse":true,"nice":false,"zero":false}}},"layer":[
{"data":{"name":"m1"},"mark":{"type":"line","stroke":"#222222","strokeWidth":1,"clip":true},"encoding":{"fill":{"field":"v","type":"quantitative","legend":null,"scale":{"type":"threshold","domain":[-1,-0.9,-0.8,-0.7,-0.6,-0.5,-0.4,-0.3,-0.2,-0.1,0,0.1,0.2,0.3,0.4,0.5,0.6,0.7,0.8,0.9,1],"range":["#323c92","#4b4a9b","#5b58a3","#6a66ab","#7a76b6","#8885bf","#9a95c8","#aba8d2","#c0bedd","#d6d6ea","#eef0f7","#fff3ec","#fee0d3","#fdd0bf","#fcc0a9","#fbae95","#f89e82","#f68d6e","#f47c5a","#f26a4a","#f04e33","#ee2a24"]}},"order":{"value":null}}},
{"data":{"values":[{"x":283,"y":310}]},"mark":{"type":"point","shape":"circle","filled":false,"opacity":1,"stroke":"white","strokeWidth":48,"size":49284,"clip":true}},
{"data":{"values":[{"x":283,"y":310}]},"mark":{"type":"point","shape":"circle","filled":false,"opacity":1,"stroke":"#222222","strokeWidth":1.3,"size":30276}},
{"data":{"values":[{"x":262,"y":50},{"x":281,"y":20},{"x":300,"y":50}]},"mark":{"type":"line","stroke":"#333333","strokeWidth":0.8}},
{"data":{"values":[{"x":284,"y":385,"l":"Pz"},{"x":324,"y":445,"l":"Pz"}]},"mark":{"type":"text","fontSize":11,"baseline":"middle"},"encoding":{"text":{"field":"l"}}},
{"data":{"values":[{"x":147,"y":-153,"l":"N400"},{"x":147,"y":-75,"l":"400-600ms"}]},"mark":{"type":"text","align":"left","baseline":"middle","fontSize":22},"encoding":{"text":{"field":"l"}}}]},
{"width":193,"height":265,"encoding":{"x":{"field":"x","type":"quantitative","axis":null,"scale":{"domain":[0,579],"nice":false,"zero":false}},"y":{"field":"y","type":"quantitative","axis":null,"scale":{"domain":[-210,585],"reverse":true,"nice":false,"zero":false}}},"layer":[
{"data":{"name":"m2"},"mark":{"type":"line","stroke":"#222222","strokeWidth":1,"clip":true},"encoding":{"fill":{"field":"v","type":"quantitative","legend":null,"scale":{"type":"threshold","domain":[-1,-0.9,-0.8,-0.7,-0.6,-0.5,-0.4,-0.3,-0.2,-0.1,0,0.1,0.2,0.3,0.4,0.5,0.6,0.7,0.8,0.9,1],"range":["#323c92","#4b4a9b","#5b58a3","#6a66ab","#7a76b6","#8885bf","#9a95c8","#aba8d2","#c0bedd","#d6d6ea","#eef0f7","#fff3ec","#fee0d3","#fdd0bf","#fcc0a9","#fbae95","#f89e82","#f68d6e","#f47c5a","#f26a4a","#f04e33","#ee2a24"]}},"order":{"value":null}}},
{"data":{"values":[{"x":288,"y":309}]},"mark":{"type":"point","shape":"circle","filled":false,"opacity":1,"stroke":"white","strokeWidth":48,"size":49284,"clip":true}},
{"data":{"values":[{"x":288,"y":309}]},"mark":{"type":"point","shape":"circle","filled":false,"opacity":1,"stroke":"#222222","strokeWidth":1.3,"size":30276}},
{"data":{"values":[{"x":273,"y":50},{"x":289,"y":22},{"x":305,"y":50}]},"mark":{"type":"line","stroke":"#333333","strokeWidth":0.8}},
{"data":{"values":[{"x":35,"y":275},{"x":18,"y":290},{"x":12,"y":312},{"x":18,"y":335},{"x":35,"y":352}]},"mark":{"type":"line","stroke":"#555555","strokeWidth":0.8,"interpolate":"cardinal"},"encoding":{"order":{"value":null}}},
{"data":{"values":[{"x":290,"y":385,"l":"Pz"},{"x":331,"y":445,"l":"Pz"}]},"mark":{"type":"text","fontSize":11,"baseline":"middle"},"encoding":{"text":{"field":"l"}}},
{"data":{"values":[{"x":144,"y":-153,"l":"P600"},{"x":144,"y":-75,"l":"600-700ms"}]},"mark":{"type":"text","align":"left","baseline":"middle","fontSize":22},"encoding":{"text":{"field":"l"}}}]},
{"width":190,"height":265,"encoding":{"x":{"field":"x","type":"quantitative","axis":null,"scale":{"domain":[0,570],"nice":false,"zero":false}},"y":{"field":"y","type":"quantitative","axis":null,"scale":{"domain":[-210,585],"reverse":true,"nice":false,"zero":false}}},"layer":[
{"data":{"name":"m3"},"mark":{"type":"line","stroke":"#222222","strokeWidth":1,"clip":true},"encoding":{"fill":{"field":"v","type":"quantitative","legend":null,"scale":{"type":"threshold","domain":[-1,-0.9,-0.8,-0.7,-0.6,-0.5,-0.4,-0.3,-0.2,-0.1,0,0.1,0.2,0.3,0.4,0.5,0.6,0.7,0.8,0.9,1],"range":["#323c92","#4b4a9b","#5b58a3","#6a66ab","#7a76b6","#8885bf","#9a95c8","#aba8d2","#c0bedd","#d6d6ea","#eef0f7","#fff3ec","#fee0d3","#fdd0bf","#fcc0a9","#fbae95","#f89e82","#f68d6e","#f47c5a","#f26a4a","#f04e33","#ee2a24"]}},"order":{"value":null}}},
{"data":{"values":[{"x":315,"y":310}]},"mark":{"type":"point","shape":"circle","filled":false,"opacity":1,"stroke":"white","strokeWidth":48,"size":49284,"clip":true}},
{"data":{"values":[{"x":315,"y":310}]},"mark":{"type":"point","shape":"circle","filled":false,"opacity":1,"stroke":"#222222","strokeWidth":1.3,"size":30276,"clip":true}},
{"data":{"values":[{"x":300,"y":50},{"x":316,"y":22},{"x":333,"y":50}]},"mark":{"type":"line","stroke":"#333333","strokeWidth":0.8}},
{"data":{"values":[{"x":62,"y":275},{"x":45,"y":290},{"x":38,"y":312},{"x":45,"y":335},{"x":62,"y":352}]},"mark":{"type":"line","stroke":"#555555","strokeWidth":0.8,"interpolate":"cardinal"},"encoding":{"order":{"value":null}}},
{"data":{"values":[{"x":316,"y":385,"l":"Pz"}]},"mark":{"type":"text","fontSize":11,"baseline":"middle"},"encoding":{"text":{"field":"l"}}},
{"data":{"values":[{"x":159,"y":-75,"l":"750-900ms"}]},"mark":{"type":"text","align":"left","baseline":"middle","fontSize":22},"encoding":{"text":{"field":"l"}}}]}
],"spacing":0,"bounds":"flush"},
{"hconcat":[
{"width":505,"height":330,"encoding":{"x":{"field":"t","type":"quantitative","axis":null,"scale":{"domain":[-0.542,1.224],"nice":false,"zero":false}},"y":{"field":"u","type":"quantitative","axis":null,"scale":{"domain":[-2.677,2.38],"reverse":true,"nice":false,"zero":false}}},"layer":[
{"data":{"values":[{"t":0.402,"t2":0.591,"u":-1.33,"u2":1.292},{"t":0.605,"t2":0.706,"u":-1.33,"u2":1.292},{"t":0.752,"t2":0.895,"u":-1.33,"u2":1.292}]},"mark":{"type":"rect","fill":"#dfe0e2"},"encoding":{"x2":{"field":"t2"},"y2":{"field":"u2"}}},
{"data":{"values":[{"t":-0.2,"t2":1,"u":0,"u2":0},{"t":0,"t2":0,"u":-2,"u2":2},{"t":-0.047,"t2":0.047,"u":-2,"u2":-2},{"t":-0.047,"t2":0.047,"u":2,"u2":2},{"t":-0.014,"t2":0.014,"u":-1,"u2":-1},{"t":-0.014,"t2":0.014,"u":1,"u2":1},{"t":-0.2,"t2":-0.2,"u":-0.1,"u2":0.1},{"t":1,"t2":1,"u":-0.2,"u2":0.21},{"t":0.5,"t2":0.5,"u":-0.115,"u2":0.115},{"t":-0.15,"t2":-0.15,"u":-0.054,"u2":0.054},{"t":-0.1,"t2":-0.1,"u":-0.054,"u2":0.054},{"t":-0.05,"t2":-0.05,"u":-0.054,"u2":0.054},{"t":0.05,"t2":0.05,"u":-0.054,"u2":0.054},{"t":0.1,"t2":0.1,"u":-0.054,"u2":0.054},{"t":0.15,"t2":0.15,"u":-0.054,"u2":0.054},{"t":0.2,"t2":0.2,"u":-0.054,"u2":0.054},{"t":0.25,"t2":0.25,"u":-0.054,"u2":0.054},{"t":0.3,"t2":0.3,"u":-0.054,"u2":0.054},{"t":0.35,"t2":0.35,"u":-0.054,"u2":0.054},{"t":0.4,"t2":0.4,"u":-0.054,"u2":0.054},{"t":0.45,"t2":0.45,"u":-0.054,"u2":0.054},{"t":0.55,"t2":0.55,"u":-0.054,"u2":0.054},{"t":0.6,"t2":0.6,"u":-0.054,"u2":0.054},{"t":0.65,"t2":0.65,"u":-0.054,"u2":0.054},{"t":0.7,"t2":0.7,"u":-0.054,"u2":0.054},{"t":0.75,"t2":0.75,"u":-0.054,"u2":0.054},{"t":0.8,"t2":0.8,"u":-0.054,"u2":0.054},{"t":0.85,"t2":0.85,"u":-0.054,"u2":0.054},{"t":0.9,"t2":0.9,"u":-0.054,"u2":0.054},{"t":0.95,"t2":0.95,"u":-0.054,"u2":0.054}]},"mark":{"type":"rule","stroke":"#333333","strokeWidth":1.5},"encoding":{"x2":{"field":"t2"},"y2":{"field":"u2"}}},
{"data":{"name":"bigN"},"mark":{"type":"line","stroke":"#cc3355","strokeWidth":3.2,"interpolate":"monotone"}},
{"data":{"name":"bigP"},"mark":{"type":"line","stroke":"#4f9ab5","strokeWidth":3.2,"interpolate":"monotone"}},
{"data":{"values":[{"t":-0.077,"u":-2,"l":"-2"},{"t":-0.077,"u":2,"l":"2"},{"t":-0.238,"u":0.02,"l":"-0.2"}]},"mark":{"type":"text","align":"right","baseline":"middle","fontSize":16},"encoding":{"text":{"field":"l"}}},
{"data":{"values":[{"t":1.028,"u":0.02,"l":"1.0"}]},"mark":{"type":"text","align":"left","baseline":"middle","fontSize":16},"encoding":{"text":{"field":"l"}}},
{"data":{"values":[{"t":0.385,"u":-1.76,"l":"N400"},{"t":0.657,"u":-1.76,"l":"P600"},{"t":0.385,"u":1.706,"l":"N400"},{"t":0.794,"u":1.706,"l":"P600"},{"t":0.993,"u":-0.425,"l":"s"}]},"mark":{"type":"text","align":"center","baseline":"middle","fontSize":16},"encoding":{"text":{"field":"l"}}},
{"data":{"values":[{"t":0.031,"u":-1.76,"l":"μV"}]},"mark":{"type":"text","align":"left","baseline":"middle","fontSize":16,"fontStyle":"italic"},"encoding":{"text":{"field":"l"}}},
{"data":{"values":[{"t":-0.245,"u":-1.344,"l":"PZ"}]},"mark":{"type":"text","align":"left","baseline":"middle","fontSize":21},"encoding":{"text":{"field":"l"}}}]},
{"width":78,"height":330,"encoding":{"x":{"field":"x","type":"quantitative","axis":null,"scale":{"domain":[-1.935,1.065],"nice":false,"zero":false}},"y":{"field":"y","type":"quantitative","axis":null,"scale":{"domain":[-1.114,1.235],"nice":false,"zero":false}}},"layer":[
{"data":{"values":[{"x":0,"x2":1,"y":-1.1,"y2":-1,"v":-1.05},{"x":0,"x2":1,"y":-1,"y2":-0.9,"v":-0.95},{"x":0,"x2":1,"y":-0.9,"y2":-0.8,"v":-0.85},{"x":0,"x2":1,"y":-0.8,"y2":-0.7,"v":-0.75},{"x":0,"x2":1,"y":-0.7,"y2":-0.6,"v":-0.65},{"x":0,"x2":1,"y":-0.6,"y2":-0.5,"v":-0.55},{"x":0,"x2":1,"y":-0.5,"y2":-0.4,"v":-0.45},{"x":0,"x2":1,"y":-0.4,"y2":-0.3,"v":-0.35},{"x":0,"x2":1,"y":-0.3,"y2":-0.2,"v":-0.25},{"x":0,"x2":1,"y":-0.2,"y2":-0.1,"v":-0.15},{"x":0,"x2":1,"y":-0.1,"y2":0,"v":-0.05},{"x":0,"x2":1,"y":0,"y2":0.1,"v":0.05},{"x":0,"x2":1,"y":0.1,"y2":0.2,"v":0.15},{"x":0,"x2":1,"y":0.2,"y2":0.3,"v":0.25},{"x":0,"x2":1,"y":0.3,"y2":0.4,"v":0.35},{"x":0,"x2":1,"y":0.4,"y2":0.5,"v":0.45},{"x":0,"x2":1,"y":0.5,"y2":0.6,"v":0.55},{"x":0,"x2":1,"y":0.6,"y2":0.7,"v":0.65},{"x":0,"x2":1,"y":0.7,"y2":0.8,"v":0.75},{"x":0,"x2":1,"y":0.8,"y2":0.9,"v":0.85},{"x":0,"x2":1,"y":0.9,"y2":1,"v":0.95},{"x":0,"x2":1,"y":1,"y2":1.1,"v":1.05}]},"mark":{"type":"rect","stroke":"#444444","strokeWidth":0.7},"encoding":{"x2":{"field":"x2"},"y2":{"field":"y2"},"fill":{"field":"v","type":"quantitative","legend":null,"scale":{"type":"threshold","domain":[-1,-0.9,-0.8,-0.7,-0.6,-0.5,-0.4,-0.3,-0.2,-0.1,0,0.1,0.2,0.3,0.4,0.5,0.6,0.7,0.8,0.9,1],"range":["#323c92","#4b4a9b","#5b58a3","#6a66ab","#7a76b6","#8885bf","#9a95c8","#aba8d2","#c0bedd","#d6d6ea","#eef0f7","#fff3ec","#fee0d3","#fdd0bf","#fcc0a9","#fbae95","#f89e82","#f68d6e","#f47c5a","#f26a4a","#f04e33","#ee2a24"]}}}},
{"data":{"values":[{"x":-0.33,"y":1.014,"l":"+1.0"},{"x":-0.33,"y":-1.014,"l":"-1.0"}]},"mark":{"type":"text","align":"right","baseline":"middle","fontSize":16},"encoding":{"text":{"field":"l"}}},
{"data":{"values":[{"x":-0.4,"y":-0.01,"l":"μV"}]},"mark":{"type":"text","align":"right","baseline":"middle","fontSize":16,"fontStyle":"italic"},"encoding":{"text":{"field":"l"}}}]}
],"spacing":0,"bounds":"flush"},
{"hconcat":[
{"width":200,"height":297,"encoding":{"x":{"field":"x","type":"quantitative","axis":null,"scale":{"domain":[0,600],"nice":false,"zero":false}},"y":{"field":"y","type":"quantitative","axis":null,"scale":{"domain":[0,891],"reverse":true,"nice":false,"zero":false}}},"layer":[
{"data":{"name":"m4"},"mark":{"type":"line","stroke":"#222222","strokeWidth":1,"clip":true},"encoding":{"fill":{"field":"v","type":"quantitative","legend":null,"scale":{"type":"threshold","domain":[-1,-0.9,-0.8,-0.7,-0.6,-0.5,-0.4,-0.3,-0.2,-0.1,0,0.1,0.2,0.3,0.4,0.5,0.6,0.7,0.8,0.9,1],"range":["#323c92","#4b4a9b","#5b58a3","#6a66ab","#7a76b6","#8885bf","#9a95c8","#aba8d2","#c0bedd","#d6d6ea","#eef0f7","#fff3ec","#fee0d3","#fdd0bf","#fcc0a9","#fbae95","#f89e82","#f68d6e","#f47c5a","#f26a4a","#f04e33","#ee2a24"]}},"order":{"value":null}}},
{"data":{"values":[{"x":283,"y":308}]},"mark":{"type":"point","shape":"circle","filled":false,"opacity":1,"stroke":"white","strokeWidth":48,"size":49284,"clip":true}},
{"data":{"values":[{"x":283,"y":308}]},"mark":{"type":"point","shape":"circle","filled":false,"opacity":1,"stroke":"#222222","strokeWidth":1.3,"size":30276}},
{"data":{"values":[{"x":262,"y":50},{"x":279,"y":16},{"x":297,"y":50}]},"mark":{"type":"line","stroke":"#333333","strokeWidth":0.8}},
{"data":{"values":[{"x":25,"y":268},{"x":8,"y":285},{"x":3,"y":308},{"x":8,"y":330},{"x":25,"y":347}]},"mark":{"type":"line","stroke":"#555555","strokeWidth":0.8,"interpolate":"cardinal"},"encoding":{"order":{"value":null}}},
{"data":{"values":[{"x":537,"y":268},{"x":550,"y":285},{"x":555,"y":308},{"x":550,"y":330},{"x":537,"y":347}]},"mark":{"type":"line","stroke":"#555555","strokeWidth":0.8,"interpolate":"cardinal"},"encoding":{"order":{"value":null}}},
{"data":{"values":[{"x":279,"y":385,"l":"Pz"},{"x":324,"y":447,"l":"Pz"}]},"mark":{"type":"text","fontSize":11,"baseline":"middle"},"encoding":{"text":{"field":"l"}}},
{"data":{"values":[{"x":120,"y":642,"l":"N400"},{"x":120,"y":723,"l":"400-600ms"}]},"mark":{"type":"text","align":"left","baseline":"middle","fontSize":22},"encoding":{"text":{"field":"l"}}}]},
{"width":193,"height":297,"encoding":{"x":{"field":"x","type":"quantitative","axis":null,"scale":{"domain":[0,579],"nice":false,"zero":false}},"y":{"field":"y","type":"quantitative","axis":null,"scale":{"domain":[0,891],"reverse":true,"nice":false,"zero":false}}},"layer":[
{"data":{"name":"m5"},"mark":{"type":"line","stroke":"#222222","strokeWidth":1,"clip":true},"encoding":{"fill":{"field":"v","type":"quantitative","legend":null,"scale":{"type":"threshold","domain":[-1,-0.9,-0.8,-0.7,-0.6,-0.5,-0.4,-0.3,-0.2,-0.1,0,0.1,0.2,0.3,0.4,0.5,0.6,0.7,0.8,0.9,1],"range":["#323c92","#4b4a9b","#5b58a3","#6a66ab","#7a76b6","#8885bf","#9a95c8","#aba8d2","#c0bedd","#d6d6ea","#eef0f7","#fff3ec","#fee0d3","#fdd0bf","#fcc0a9","#fbae95","#f89e82","#f68d6e","#f47c5a","#f26a4a","#f04e33","#ee2a24"]}},"order":{"value":null}}},
{"data":{"values":[{"x":288,"y":308}]},"mark":{"type":"point","shape":"circle","filled":false,"opacity":1,"stroke":"white","strokeWidth":48,"size":49284,"clip":true}},
{"data":{"values":[{"x":288,"y":308}]},"mark":{"type":"point","shape":"circle","filled":false,"opacity":1,"stroke":"#222222","strokeWidth":1.3,"size":30276}},
{"data":{"values":[{"x":273,"y":48},{"x":289,"y":17},{"x":307,"y":48}]},"mark":{"type":"line","stroke":"#333333","strokeWidth":0.8}},
{"data":{"values":[{"x":33,"y":268},{"x":16,"y":285},{"x":11,"y":308},{"x":16,"y":330},{"x":33,"y":347}]},"mark":{"type":"line","stroke":"#555555","strokeWidth":0.8,"interpolate":"cardinal"},"encoding":{"order":{"value":null}}},
{"data":{"values":[{"x":543,"y":268},{"x":558,"y":285},{"x":565,"y":308},{"x":558,"y":330},{"x":543,"y":347}]},"mark":{"type":"line","stroke":"#555555","strokeWidth":0.8,"interpolate":"cardinal"},"encoding":{"order":{"value":null}}},
{"data":{"values":[{"x":290,"y":388,"l":"Pz"},{"x":331,"y":447,"l":"Pz"}]},"mark":{"type":"text","fontSize":11,"baseline":"middle"},"encoding":{"text":{"field":"l"}}},
{"data":{"values":[{"x":123,"y":723,"l":"600-700ms"}]},"mark":{"type":"text","align":"left","baseline":"middle","fontSize":22},"encoding":{"text":{"field":"l"}}}]},
{"width":190,"height":297,"encoding":{"x":{"field":"x","type":"quantitative","axis":null,"scale":{"domain":[0,570],"nice":false,"zero":false}},"y":{"field":"y","type":"quantitative","axis":null,"scale":{"domain":[0,891],"reverse":true,"nice":false,"zero":false}}},"layer":[
{"data":{"name":"m6"},"mark":{"type":"line","stroke":"#222222","strokeWidth":1,"clip":true},"encoding":{"fill":{"field":"v","type":"quantitative","legend":null,"scale":{"type":"threshold","domain":[-1,-0.9,-0.8,-0.7,-0.6,-0.5,-0.4,-0.3,-0.2,-0.1,0,0.1,0.2,0.3,0.4,0.5,0.6,0.7,0.8,0.9,1],"range":["#323c92","#4b4a9b","#5b58a3","#6a66ab","#7a76b6","#8885bf","#9a95c8","#aba8d2","#c0bedd","#d6d6ea","#eef0f7","#fff3ec","#fee0d3","#fdd0bf","#fcc0a9","#fbae95","#f89e82","#f68d6e","#f47c5a","#f26a4a","#f04e33","#ee2a24"]}},"order":{"value":null}}},
{"data":{"values":[{"x":315,"y":308}]},"mark":{"type":"point","shape":"circle","filled":false,"opacity":1,"stroke":"white","strokeWidth":48,"size":49284,"clip":true}},
{"data":{"values":[{"x":315,"y":308}]},"mark":{"type":"point","shape":"circle","filled":false,"opacity":1,"stroke":"#222222","strokeWidth":1.3,"size":30276,"clip":true}},
{"data":{"values":[{"x":297,"y":50},{"x":316,"y":17},{"x":335,"y":50}]},"mark":{"type":"line","stroke":"#333333","strokeWidth":0.8}},
{"data":{"values":[{"x":60,"y":270},{"x":43,"y":288},{"x":38,"y":310},{"x":43,"y":332},{"x":60,"y":348}]},"mark":{"type":"line","stroke":"#555555","strokeWidth":0.8,"interpolate":"cardinal"},"encoding":{"order":{"value":null}}},
{"data":{"values":[{"x":316,"y":387,"l":"Pz"}]},"mark":{"type":"text","fontSize":11,"baseline":"middle"},"encoding":{"text":{"field":"l"}}},
{"data":{"values":[{"x":159,"y":642,"l":"P600"},{"x":159,"y":723,"l":"750-900ms"}]},"mark":{"type":"text","align":"left","baseline":"middle","fontSize":22},"encoding":{"text":{"field":"l"}}}]}
],"spacing":0,"bounds":"flush"}
],"spacing":0}
],"spacing":0}
